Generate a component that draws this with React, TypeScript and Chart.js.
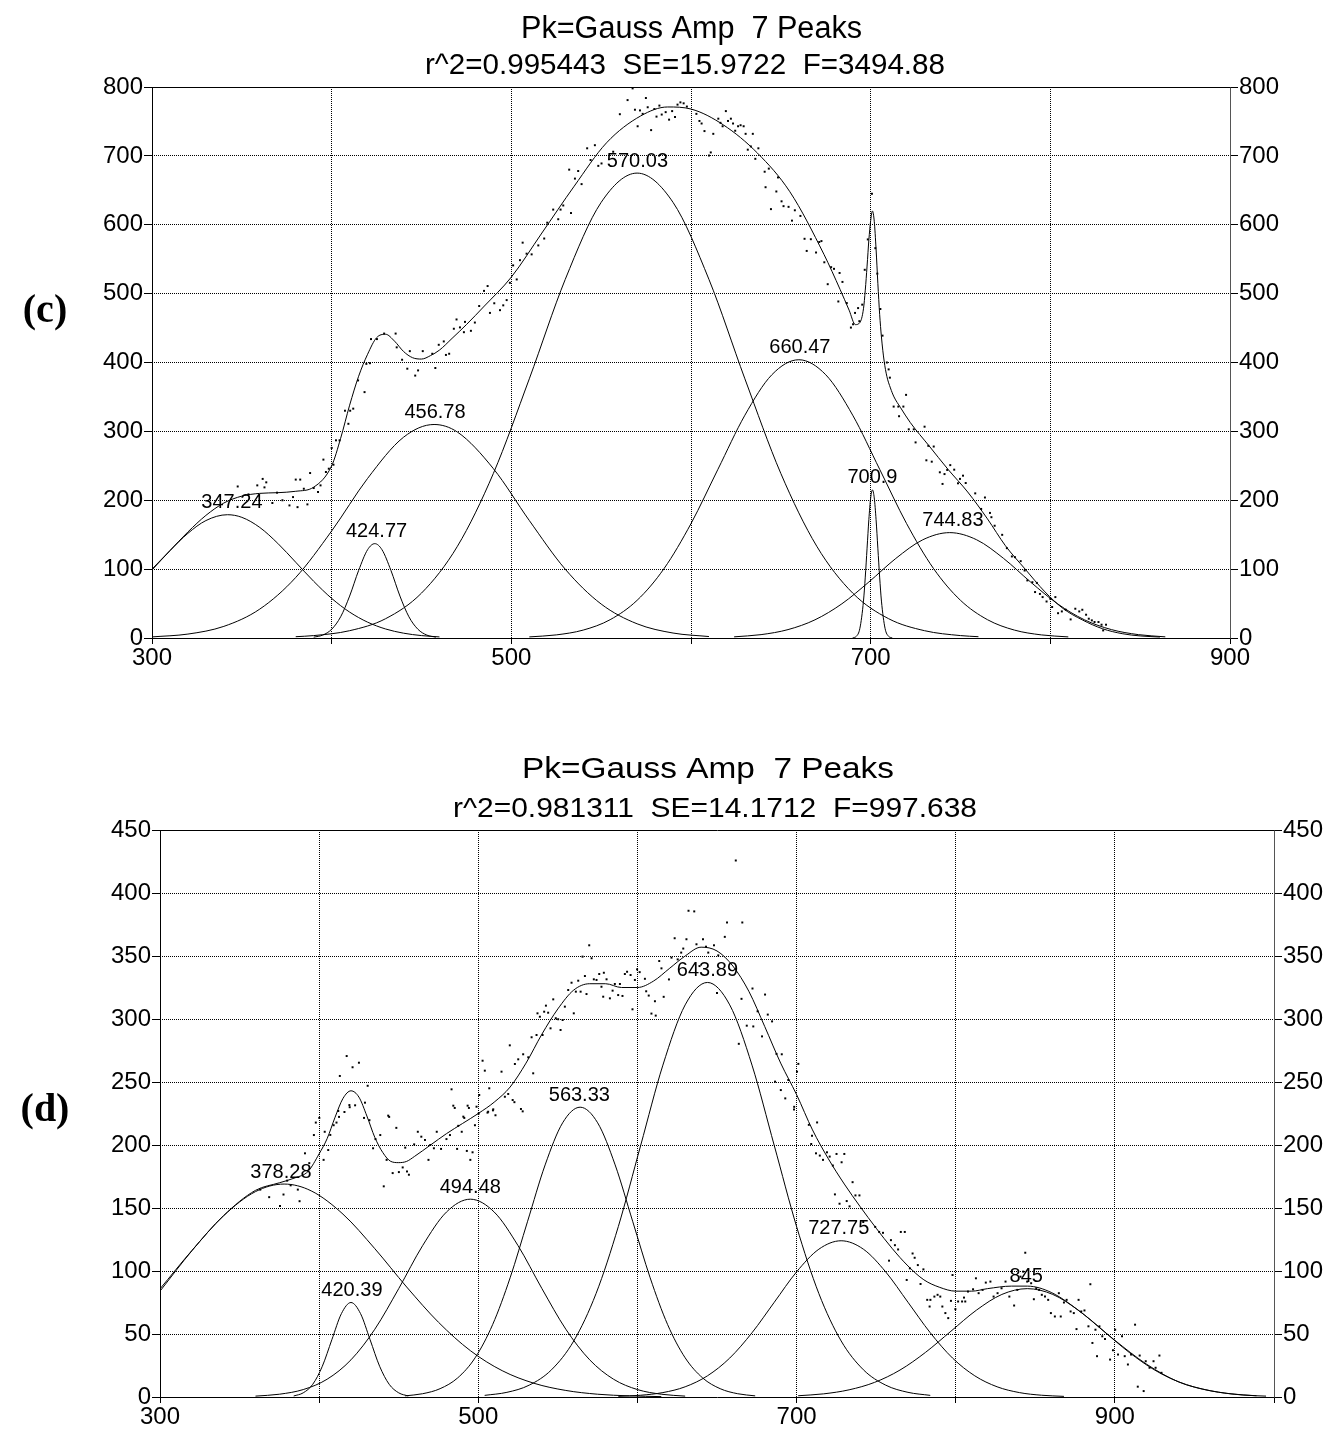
import React, { useEffect, useRef } from 'react';
import { Chart, registerables } from 'chart.js';
Chart.register(...registerables);

const FONT = "'Liberation Sans', Arial, sans-serif";

// ================= Panel (c) =================
const cTitle = 'Pk=Gauss Amp  7 Peaks';
const cSubtitle = 'r^2=0.995443  SE=15.9722  F=3494.88';
const cXLabels = [300, 500, 700, 900];
const cPeakTexts = ['347.24', '424.77', '456.78', '570.03', '660.47', '700.9', '744.83'];
const cPeakLabelX = [344.5, 425, 457.5, 570.2, 660.6, 701, 745.8];
const cPeakLabelY = [179, 137, 310, 675, 404, 215, 153];

const cPk1X = [300, 310, 320, 330, 342, 350, 360, 370, 380, 390, 400, 410, 420, 430, 440, 450, 460];
const cPk1Y = [98.7, 126.7, 152, 170.5, 179, 175.2, 160.5, 137.4, 110, 82.3, 57.5, 37.6, 23, 13.1, 7, 3.5, 1.6];
const cPk2X = [390, 395, 400, 405, 410, 415, 420, 424, 428, 433, 438, 443, 448, 453, 458];
const cPk2Y = [1.2, 4.2, 12.7, 30.8, 60.9, 98, 128.2, 137, 128.2, 98, 60.9, 30.8, 12.7, 4.2, 1.2];
const cPk3X = [300, 320, 340, 360, 380, 400, 420, 440, 457, 470, 490, 510, 530, 550, 570, 590, 610];
const cPk3Y = [1.6, 5.7, 16.9, 42, 87.9, 155.4, 231.7, 291.5, 310, 299, 245.9, 170.6, 99.9, 49.3, 20.6, 7.2, 2.1];
const cPk4X = [380, 390, 410, 430, 450, 470, 490, 510, 530, 550, 570, 590, 610, 630, 650, 670, 690, 710, 730, 750, 760];
const cPk4Y = [1.9, 3.5, 10.6, 28, 65.2, 133.2, 238.9, 376.3, 520.6, 632.5, 675, 632.5, 520.6, 376.3, 238.9, 133.2, 65.2, 28, 10.6, 3.5, 1.9];
const cPk5X = [510, 525, 540, 555, 570, 585, 600, 615, 630, 645, 660, 675, 690, 705, 720, 735, 750, 765, 780, 795, 810];
const cPk5Y = [1.6, 4.5, 11.5, 26.6, 54.7, 100.8, 166.1, 245, 323.5, 382.2, 404, 382.2, 323.5, 245, 166.1, 100.8, 54.7, 26.6, 11.5, 4.5, 1.6];
const cPk6X = [690, 692, 694, 696, 697, 698, 699, 700, 701, 702, 703, 704, 705, 706, 708, 710, 712];
const cPk6Y = [0.3, 2.4, 14.1, 53.6, 88.4, 130.4, 172.2, 203.4, 215, 203.4, 172.2, 130.4, 88.4, 53.6, 14.1, 2.4, 0.3];
const cPk7X = [624, 639, 654, 669, 684, 699, 714, 729, 744, 759, 774, 789, 804, 819, 834, 849, 864];
const cPk7Y = [1.7, 4.9, 12.2, 26.4, 49.7, 81.3, 115.5, 142.6, 153, 142.6, 115.5, 81.3, 49.7, 26.4, 12.2, 4.9, 1.7];
const cFitX = [300, 310, 320, 330, 340, 350, 360, 370, 380, 390, 400, 405, 410, 415, 420, 425, 430, 435, 440, 445, 450, 455, 460, 467, 475, 485, 500, 517, 535, 553, 572, 587, 600, 618, 637, 655, 674, 683, 688, 691.5, 694, 696, 697, 698, 699, 700, 701, 702, 703, 704, 705, 706, 707.5, 709, 711, 713, 716.5, 722, 732.5, 743, 754, 765, 775, 786, 797, 807, 818, 829, 840, 850, 861];
const cFitY = [100, 127, 154, 178, 196, 206, 210, 211, 213, 219, 250, 290, 338, 380, 412, 436, 441, 431, 416, 407, 405, 410, 418, 435, 455, 482, 524, 588, 656, 719, 758, 771, 768, 745, 704, 648, 557, 506, 476, 455, 458, 478, 505, 540, 578, 606, 620, 605, 565, 515, 470, 437, 402, 380, 363, 350, 335, 313, 279, 245, 212, 173, 134, 100, 67, 43, 26, 13.5, 6.3, 3, 1.4];
const cDots: [number, number][] = [
  [347.7, 220], [353.7, 208.5], [358.6, 221.6], [361.6, 231], [363.6, 226], [362.6, 218.7], [367, 196], [369.6, 211], [372.6, 200], [376.5, 192.5],
  [378.5, 204.6], [380, 230], [381, 190], [382.5, 230], [384.5, 216.7], [386.5, 194], [388, 239.5], [390, 217.7], [392.4, 212], [393.8, 221.6],
  [395.4, 259], [396.8, 241], [398.4, 245.8], [400, 276], [401, 251.6], [402.4, 287], [404.4, 287], [407.4, 330], [409.3, 311], [410.3, 330],
  [412, 333], [414.7, 374], [418.3, 357], [419.3, 398], [421.3, 399], [421.9, 434], [425.2, 434], [429.2, 442], [436.2, 422], [435.6, 442],
  [439.2, 404], [442.1, 391], [443.5, 416.5], [446.5, 381], [448.1, 388.5], [450.7, 416.5], [456, 412.7], [457.7, 392], [459.6, 425.7], [462.4, 430.6],
  [463.6, 411], [465.4, 412.7], [468, 449], [473.6, 444],
  [469.5, 462.5], [471.4, 451], [474.2, 459], [477.5, 446], [479.7, 458], [482.1, 482], [484.8, 504], [486.8, 511], [488.1, 472], [490.5, 486],
  [493.7, 476], [495.5, 483], [497.4, 490.6], [499.2, 515.7], [501, 541], [503, 520.6], [504.8, 548.6], [506.3, 574], [508.5, 558], [511.3, 557],
  [515, 570], [518.3, 580], [520, 603], [523.3, 622], [526.1, 608], [527.4, 622], [528.9, 628], [533.2, 617], [532.2, 680], [535.4, 667],
  [537.2, 678], [539.1, 659], [542.2, 711], [544.1, 694], [546.5, 715.5], [548.4, 685.5], [550.2, 689], [556.7, 706], [560.4, 760.5], [564.7, 781],
  [567.5, 798], [568.8, 767], [570.3, 743], [571.6, 766],
  [573.1, 761], [574.9, 784], [575.9, 770.6], [577.8, 737.4], [579.6, 768], [580.8, 757], [582.4, 773], [583.7, 760], [585.9, 763.5], [587.8, 752.6],
  [589.5, 765], [591.1, 756.4], [592.5, 774.4], [594.1, 777.7], [595.9, 776.3], [597.7, 771.6], [603, 761], [604.7, 750.7], [605.9, 747], [607.5, 736],
  [610, 700.5], [611, 705], [612.4, 732], [615.2, 754], [616.4, 748], [617.6, 743], [619.4, 765], [620.6, 750.7], [622.2, 754], [623.4, 747],
  [624.6, 736.5], [626.2, 743], [627.6, 744.5], [629.3, 743], [630.4, 732], [631.6, 709], [633.3, 713.7], [634.4, 732], [635.8, 695.7], [637.5, 711],
  [641, 677], [643.3, 681.5], [641.5, 654.5], [644.5, 622.7], [647.5, 648.3], [648.4, 668.7], [650.4, 634], [651.5, 627], [654.3, 626], [656.2, 606],
  [657.8, 621], [660.9, 612.8], [663.2, 579.6], [664.4, 562], [666.7, 579], [669.6, 559.7], [671.4, 575], [672.6, 576.3], [674.2, 545.5], [676.1, 513.7],
  [678, 538.4], [679.6, 536], [682.7, 530], [684.3, 517], [682, 488.6], [686.7, 486.3], [689, 450.7], [690.2, 455.5], [691.3, 472], [693, 479],
  [693.7, 460], [695.3, 484], [696.7, 534.6], [698.4, 578.7], [700.7, 645], [702.6, 566], [703.7, 529], [705.4, 477.7], [706.6, 439],
  [709, 400], [710, 390], [710.7, 378], [712.8, 336], [715.4, 336], [715.8, 322], [718.2, 336], [719.7, 353], [721.2, 303], [724, 303],
  [730, 306.8], [725, 284], [731, 258], [732.1, 279], [734, 256], [735.1, 278], [738.5, 240.6], [740, 223.7], [741.1, 238], [742.6, 244],
  [744.3, 251], [746.5, 244.4], [748.6, 224.6], [749.7, 231], [751.4, 235.7], [752.9, 225], [758.2, 210], [763.6, 204], [761.5, 187.4], [766.4, 181.6],
  [767.2, 175.4], [769, 163], [773.2, 149.8], [775.8, 130.4], [778.6, 118.4], [780.3, 117.4], [783.5, 111.6], [785.7, 98], [787.2, 83.6], [790, 81],
  [791.5, 66.7], [792.5, 80], [794.2, 64], [795.7, 59.4], [797.9, 53], [800, 57], [801, 45], [802.8, 59.4], [804.3, 36], [806.4, 38.6],
  [808.6, 41], [811.3, 27], [813.9, 42.5], [816.1, 38.6], [817.8, 41], [819.9, 33.8], [821.4, 28], [823.1, 25.6], [824.6, 23.2], [826.8, 23.2],
  [828.5, 19.3], [829.4, 11], [831, 19.3],
];

// ================= Panel (d) =================
const dTitle = 'Pk=Gauss Amp  7 Peaks';
const dSubtitle = 'r^2=0.981311  SE=14.1712  F=997.638';
const dXLabels = [300, 500, 700, 900];
const dPeakTexts = ['378.28', '420.39', '494.48', '563.33', '643.89', '727.75', '845'];
const dPeakLabelX = [376, 420.6, 495, 563.5, 644, 726.5, 844.3];
const dPeakLabelY = [169, 75, 157, 230, 329, 124, 86];

const dPk1X = [300, 320, 340, 360, 378, 395, 415, 435, 455, 475, 495, 515, 535, 555, 575, 595, 615];
const dPk1Y = [85.8, 116.2, 143.9, 163, 169, 163.6, 145.1, 117.7, 87.3, 59.3, 36.8, 20.9, 10.9, 5.2, 2.2, 0.9, 0.3];
const dPk2X = [384, 390, 396, 402, 408, 414, 420, 426, 432, 438, 444, 450, 456];
const dPk2Y = [0.8, 3.3, 10.1, 24.4, 45.5, 66.2, 75, 66.2, 45.5, 24.4, 10.1, 3.3, 0.8];
const dPk3X = [360, 375, 390, 405, 420, 435, 450, 465, 480, 495, 510, 525, 540, 555, 570, 585, 600, 615, 630];
const dPk3Y = [0.7, 2.2, 5.9, 14.1, 29.5, 53.8, 86, 120.1, 146.8, 157, 146.8, 120.1, 86, 53.8, 29.5, 14.1, 5.9, 2.2, 0.7];
const dPk4X = [454, 465, 476, 487, 498, 509, 520, 531, 542, 553, 564, 575, 586, 597, 608, 619, 630, 641, 652, 663, 674];
const dPk4Y = [0.9, 2.6, 6.6, 15.1, 31.1, 57.4, 94.6, 139.5, 184.2, 217.6, 230, 217.6, 184.2, 139.5, 94.6, 57.4, 31.1, 15.1, 6.6, 2.6, 0.9];
const dPk5X = [504, 518, 532, 546, 560, 574, 588, 602, 616, 630, 644, 658, 672, 686, 700, 714, 728, 742, 756, 770, 784];
const dPk5Y = [1.3, 3.7, 9.4, 21.6, 44.5, 82.1, 135.3, 199.5, 263.4, 311.2, 329, 311.2, 263.4, 199.5, 135.3, 82.1, 44.5, 21.6, 9.4, 3.7, 1.3];
const dPk6X = [588, 602, 616, 630, 644, 658, 672, 686, 700, 714, 728, 742, 756, 770, 784, 798, 812, 826, 840, 854, 868];
const dPk6Y = [0.5, 1.4, 3.5, 8.1, 16.8, 30.9, 51, 75.2, 99.3, 117.3, 124, 117.3, 99.3, 75.2, 51, 30.9, 16.8, 8.1, 3.5, 1.4, 0.5];
const dPk7X = [701, 717, 733, 749, 765, 781, 797, 813, 829, 845, 861, 877, 893, 909, 925, 941, 957, 973, 989];
const dPk7Y = [1, 2.5, 5.7, 11.6, 21.4, 35.4, 52.2, 68.9, 81.4, 86, 81.4, 68.9, 52.2, 35.4, 21.4, 11.6, 5.7, 2.5, 1];
const dFitX = [300, 320, 340, 360, 375, 385, 393, 400, 405, 410, 415, 420, 425, 430, 435, 440, 445, 450, 455, 460, 470, 480, 490, 500, 510, 520, 530, 540, 550, 560, 570, 580, 590, 600, 610, 620, 630, 640, 650, 660, 670, 680, 690, 700, 710, 720, 730, 740, 750, 760, 770, 780, 790, 800, 810, 820, 835, 845, 860, 880, 900, 920, 940, 960, 980, 995];
const dFitY = [84, 116, 144, 164, 170, 174, 179, 193, 205, 222, 237, 243, 238, 223, 206, 194, 187, 186, 187, 191, 200, 209, 217, 225, 234, 246, 265, 288, 308, 323, 328, 328, 325, 325, 330, 340, 350, 357, 354, 342, 322, 294, 265, 240, 212, 189, 169, 151, 134, 118, 104, 93, 87, 84, 84, 86, 88, 88, 83, 66, 45, 26, 12, 5, 1.6, 0.7];
const dDots: [number, number][] = [
  [363, 164.6], [368.6, 158.6], [375.4, 151.5], [377.6, 160.7], [379.9, 171.7], [382.1, 168], [383.2, 183.7], [386.6, 164.6], [387.7, 155.4], [393.8, 185.6],
  [391.1, 193.4], [396.7, 207.9], [397.9, 217.8], [400.1, 221.5], [402.8, 188.2], [403.5, 210.5], [405.7, 196], [407, 208], [409.1, 215.7], [410.9, 217.8],
  [412.5, 222.3], [415.9, 226.2], [419.2, 230], [422.6, 231.5], [428.2, 221.5], [431.6, 219.7], [433.9, 197.4], [435.4, 204.7], [438.4, 207.9], [440.6, 167.2],
  [442.4, 188.2], [444, 222.3], [446.2, 177.7], [448.5, 213.6], [450.1, 178.5], [452.5, 182.2], [454.1, 197.9], [455.2, 179], [456.4, 176.4], [459.7, 200.5],
  [462, 210.5], [464.2, 206.6], [466.5, 204], [468.7, 188.2], [469.8, 200], [472.1, 197.4], [473.9, 210.5], [476.6, 196.9], [480, 204.7], [482.2, 207.9],
  [485.2, 229.4], [487.4, 215.2], [486.7, 196.9], [489.6, 210.5], [491.2, 221.5], [492.8, 195.3], [494.1, 229.4], [495, 188.2], [496.4, 194.2], [497.9, 215.7],
  [500.2, 224.9], [505.8, 225.7], [509.2, 227.5], [510.8, 223.6], [522.7, 234], [527.9, 226.7],
  [413, 254.8], [417.3, 270.6], [421, 261.7], [425, 265.3], [430.5, 247], [412, 227], [428.8, 233.6], [419, 231.7], [443.4, 223.3],
  [483.2, 244.2], [484.3, 231.2], [490.6, 222.5], [493.3, 231.2], [498.9, 230.4], [500.6, 239.7], [502.7, 266.9], [504.1, 259], [506.9, 245], [506.2, 226.4],
  [509.4, 228.3], [514.6, 258.2], [516.7, 238.3], [518.8, 240.5], [519.8, 279.1], [521.6, 235.7], [523, 264.3], [525.1, 268], [526.8, 228.6], [528.2, 272],
  [531.4, 269.6], [533.5, 285.5], [534.5, 256.9], [536.6, 287.3], [537.2, 304.5], [538.7, 301.8], [540.4, 287.3], [541.4, 305.8], [542.5, 310.6], [543.9, 305],
  [545.4, 292.6], [547.1, 315.6], [548.7, 300.6], [550.2, 299.8], [551.7, 291.3], [553, 299.2], [554.4, 309.8], [556.5, 323], [558.6, 328.8], [560, 304.5],
  [561.3, 321.7], [562.8, 330.4], [564.3, 321.7], [565.5, 349.5], [567, 334.1], [568, 319.8], [569.7, 358.5], [571.2, 348.2], [572.6, 331.5], [574.3, 331],
  [576, 335.7], [577.4, 325.6], [578.9, 336.7], [578.5, 317.7], [580.6, 331.5], [582.7, 316.4], [584.4, 322.5], [585.8, 327.8], [587.9, 319], [589, 327.8],
  [590.6, 318.3], [592.1, 335.7], [593.5, 337.5], [595.7, 334.9], [596.9, 307.7], [598.4, 331], [599.8, 339.4],
  [601.4, 337.2], [604.7, 331.9], [605.5, 322], [607.1, 318.6], [608.8, 304.3], [611, 314.1], [611.5, 302.7], [613.7, 346], [615.1, 340.2], [616.5, 317.6],
  [619.8, 331.4], [621.4, 348.7], [623.4, 364.1], [625.3, 347.3], [627.5, 352.7], [628.8, 355.9], [630.8, 363.3], [632.1, 385.9], [635.7, 385.4], [637.1, 359.3],
  [639, 342], [641.2, 363.3], [643.1, 357.4], [644.5, 352.7], [648.1, 358.5], [650, 320.7], [650.8, 350.5], [654.9, 365.2], [656.3, 376.6], [661.8, 425.8],
  [663.7, 280.3], [665.4, 316], [665.9, 376.6], [668.7, 294.7], [672.3, 324.2], [672.8, 294.1], [675.5, 306.1], [678.3, 286.2], [680.2, 319.4], [681.9, 303.5],
  [684.6, 298.1], [687.4, 272.3], [690.7, 272], [686.5, 250.3], [690.1, 243.6], [692.9, 237], [694.8, 251.6], [698.4, 228.2], [700.3, 258.2], [701.1, 264.4],
  [698.5, 230.3], [707.7, 216], [712.9, 217.9], [709.7, 207.4], [709.2, 200.8], [712.2, 193.4], [714.6, 191.6], [716.6, 188.2], [719.1, 194.2], [720.8, 190.8],
  [722.8, 183.7], [725.1, 192.9], [728.3, 186.3], [730, 192.9], [724.1, 160.8], [727, 153.4], [731.5, 155.5], [733.3, 151.3], [735.2, 170.5], [737, 160],
  [739.5, 160], [741.9, 138.9], [749.4, 135], [751.9, 131], [754.3, 130.3], [758.1, 108.2], [759.3, 124.5], [761.8, 120.5], [763.8, 117.1], [765.5, 131],
  [768, 131], [769.2, 92.9], [771.2, 102.1], [772.9, 113.9], [774.2, 110.5], [776.2, 104.7], [777.9, 89.7], [779.7, 101.3], [782.1, 77.1], [784.1, 77.1],
  [783.6, 71.8], [786.6, 79.7], [788.6, 81.1], [790.3, 79.7], [791.6, 71.8], [793.5, 66.6], [795.3, 62.6], [797, 76.3], [798, 96.8], [799.8, 69.7],
  [801.5, 75.8], [804, 75.8], [806, 75.8], [805.2, 78.9], [807.7, 83.7], [810.9, 85.5], [812.7, 94.2], [814.4, 82.4], [816.9, 85], [818.9, 90.8],
  [821.8, 91.6], [823.8, 79.7], [826.3, 82.4], [828.8, 86.3], [831.3, 91.6], [833.7, 79.7], [836.7, 72.6], [838.7, 85], [840.7, 95.5], [843.7, 114.5],
  [842.4, 99.5], [844.9, 91.6], [847.4, 90.3], [849.1, 77.6], [850.6, 86.3], [852.4, 85], [854.1, 81.1], [856.1, 79.7], [858.1, 77.1], [859.8, 66.6],
  [862.3, 63.9], [864.8, 82.4], [866, 63.9], [868, 75], [869.7, 77.1], [872.2, 67.9], [874.2, 66.6], [875.9, 53.9], [877.2, 77.1], [878.9, 67.9],
  [880.9, 68.7], [884.6, 89.5], [883.4, 56.1], [885.9, 42.9], [887.8, 53.4], [888.8, 32.4], [890.3, 56.1], [892.1, 48.2], [893.8, 46.1], [897, 29.7],
  [898.8, 37.1], [900.2, 53.4], [902, 33.7], [904.5, 48.2], [906.2, 32.4], [908.2, 25.8], [910.2, 33.7], [912.7, 57.4], [914.4, 8.2], [915.6, 32.9],
  [918.1, 4.7], [919.4, 28.4], [921.8, 23.2], [924.3, 28.4], [925.6, 23.2], [928, 32.9], [929.3, 19.2],
];

type TextLine = { text: string; size: number; cx: number; base: number; width: number };
type Spec = {
  panel: string; panelY: number; heads: TextLine[];
  xMax: number; yMax: number; yStep: number; xLabels: number[];
  padTop: number; leftW: number; rightW: number; xAxisH: number;
  curves: [number[], number[]][]; fitX: number[]; fitY: number[]; dots: [number, number][];
  peakTexts: string[]; peakX: number[]; peakY: number[];
};

function makeChart(canvas: HTMLCanvasElement, s: Spec) {
  const line = (xs: number[], ys: number[]) => ({
    data: xs.map((x, i) => ({ x, y: ys[i] })),
    showLine: true, pointRadius: 0, pointHoverRadius: 0, borderColor: '#000', borderWidth: 1,
    cubicInterpolationMode: 'monotone', fill: false,
  });
  const datasets: any[] = s.curves.map(([xs, ys]) => line(xs, ys));
  datasets.push(line(s.fitX, s.fitY));
  datasets.push({
    data: s.dots.map(([x, y]) => ({ x, y })), showLine: false, pointStyle: 'rect',
    pointRadius: 1.4, pointHoverRadius: 1.4, backgroundColor: '#000', borderWidth: 0,
  });
  const tickFont = { family: FONT, size: 24 };
  const al = (p: number) => Math.round(p - 0.5) + 0.5;
  const overlay = {
    id: 'overlay',
    afterDatasetsDraw(chart: any) {
      const ctx = chart.ctx; const xs = chart.scales.x; const ys = chart.scales.y;
      ctx.save();
      ctx.font = `20px ${FONT}`; ctx.fillStyle = '#000'; ctx.textAlign = 'center'; ctx.textBaseline = 'bottom';
      s.peakTexts.forEach((t, i) => {
        ctx.fillText(t, xs.getPixelForValue(s.peakX[i]), ys.getPixelForValue(s.peakY[i]) - 2);
      });
      ctx.restore();
    },
    afterDraw(chart: any) {
      const ctx = chart.ctx; const { left, right, top, bottom } = chart.chartArea;
      ctx.save();
      ctx.setLineDash([]); ctx.lineWidth = 1; ctx.strokeStyle = '#000';
      ctx.beginPath();
      ctx.moveTo(al(right), al(top)); ctx.lineTo(al(left), al(top)); ctx.lineTo(al(left), al(bottom)); ctx.lineTo(al(right), al(bottom));
      ctx.stroke();
      ctx.strokeStyle = '#555';
      ctx.beginPath(); ctx.moveTo(al(right), al(top)); ctx.lineTo(al(right), al(bottom)); ctx.stroke();
      ctx.fillStyle = '#000'; ctx.textAlign = 'center'; ctx.textBaseline = 'alphabetic';
      s.heads.forEach((h) => {
        ctx.save();
        ctx.font = `${h.size}px ${FONT}`;
        const w = ctx.measureText(h.text).width;
        ctx.translate(h.cx, h.base);
        ctx.scale(h.width / w, 1);
        ctx.fillText(h.text, 0, 0);
        ctx.restore();
      });
      ctx.font = `bold 40px 'Liberation Serif', 'Times New Roman', serif`;
      ctx.textBaseline = 'middle';
      ctx.fillText(s.panel, 45, s.panelY);
      ctx.restore();
    },
  };
  const yAxis = (pos: 'left' | 'right') => ({
    type: 'linear', position: pos, min: 0, max: s.yMax,
    afterFit: (sc: any) => { sc.width = pos === 'left' ? s.leftW : s.rightW; },
    ticks: { stepSize: s.yStep, color: '#000', font: tickFont, padding: 1, autoSkip: false },
    grid: { drawOnChartArea: pos === 'left', color: '#000', lineWidth: 1, tickLength: 8, tickColor: '#000', tickBorderDash: [] },
    border: { display: false, dash: [1, 1] },
  });
  return new Chart(canvas, {
    type: 'scatter',
    data: { datasets },
    options: {
      animation: false, responsive: false, devicePixelRatio: 1, events: [],
      layout: { padding: { top: s.padTop, left: 0, right: 0, bottom: 0 } },
      plugins: { legend: { display: false }, tooltip: { enabled: false }, title: { display: false } },
      scales: {
        x: {
          type: 'linear', min: 300, max: s.xMax,
          afterFit: (sc: any) => { sc.height = s.xAxisH; },
          ticks: {
            stepSize: 100, autoSkip: false, maxRotation: 0, color: '#000', font: tickFont, padding: 0,
            callback: (v: any) => (s.xLabels.includes(Number(v)) ? String(v) : ''),
          },
          grid: { color: '#000', lineWidth: 1, tickLength: 6, tickColor: '#000', tickBorderDash: [] },
          border: { display: false, dash: [1, 1] },
        },
        y: yAxis('left'),
        y2: yAxis('right'),
      },
    } as any,
    plugins: [overlay as any],
  });
}

const specC: Spec = {
  panel: '(c)', panelY: 312,
  heads: [
    { text: cTitle, size: 31, cx: 691.5, base: 38, width: 341 },
    { text: cSubtitle, size: 29, cx: 685, base: 74, width: 520 },
  ],
  xMax: 900, yMax: 800, yStep: 100, xLabels: cXLabels,
  padTop: 87, leftW: 152, rightW: 101, xAxisH: 42,
  curves: [[cPk1X, cPk1Y], [cPk2X, cPk2Y], [cPk3X, cPk3Y], [cPk4X, cPk4Y], [cPk5X, cPk5Y], [cPk6X, cPk6Y], [cPk7X, cPk7Y]],
  fitX: cFitX, fitY: cFitY, dots: cDots,
  peakTexts: cPeakTexts, peakX: cPeakLabelX, peakY: cPeakLabelY,
};

const specD: Spec = {
  panel: '(d)', panelY: 421,
  heads: [
    { text: dTitle, size: 30, cx: 708, base: 88, width: 372 },
    { text: dSubtitle, size: 28.5, cx: 715, base: 127, width: 524 },
  ],
  xMax: 1000, yMax: 450, yStep: 50, xLabels: dXLabels,
  padTop: 140, leftW: 160, rightW: 57, xAxisH: 32,
  curves: [[dPk1X, dPk1Y], [dPk2X, dPk2Y], [dPk3X, dPk3Y], [dPk4X, dPk4Y], [dPk5X, dPk5Y], [dPk6X, dPk6Y], [dPk7X, dPk7Y]],
  fitX: dFitX, fitY: dFitY, dots: dDots,
  peakTexts: dPeakTexts, peakX: dPeakLabelX, peakY: dPeakLabelY,
};

function Panel({ spec, top, height }: { spec: Spec; top: number; height: number }) {
  const ref = useRef<HTMLCanvasElement | null>(null);
  useEffect(() => {
    if (!ref.current) return;
    const chart = makeChart(ref.current, spec);
    return () => chart.destroy();
  }, [spec]);
  return (
    <canvas ref={ref} width={1331} height={height}
      style={{ position: 'absolute', left: 0, top, width: 1331, height, display: 'block' }} />
  );
}

export default function App() {
  return (
    <div style={{ position: 'absolute', left: 0, top: 0, width: 1331, height: 1429, background: '#fff', overflow: 'hidden' }}>
      <Panel spec={specC} top={0} height={680} />
      <Panel spec={specD} top={690} height={739} />
    </div>
  );
}
